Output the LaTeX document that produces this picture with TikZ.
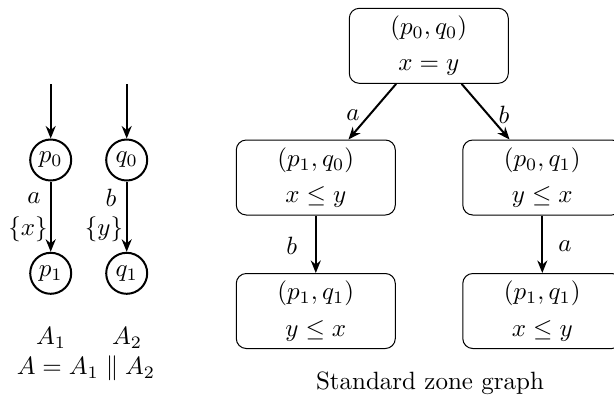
\documentclass[tikz,border=0pt]{standalone}
\usetikzlibrary{arrows.meta}
\begin{document}
\begin{tikzpicture}[x=0.4pt,y=-0.4pt,
  st/.style={circle,draw,thick,inner sep=0pt,minimum size=16.4pt},
  zone/.style={draw,rounded corners=4pt,minimum width=63.6pt,minimum height=30pt,align=center,inner sep=0pt},
  arr/.style={-{Stealth[length=5pt,width=4pt]},thick},
  lbl/.style={inner sep=0pt}]
\useasboundingbox (0,0) rectangle (614,414);
% automata
\node[st] (p0) at (50.7,160) {$p_0$};
\node[st] (p1) at (50.7,273.3) {$p_1$};
\node[st] (q0) at (126.7,160) {$q_0$};
\node[st] (q1) at (126.7,273.3) {$q_1$};
\coordinate (ip) at (50.7,84);
\coordinate (iq) at (126.7,84);
\draw[arr] (ip) -- (p0);
\draw[arr] (iq) -- (q0);
\draw[arr] (p0) -- (p1);
\draw[arr] (q0) -- (q1);
\node[lbl] (la) at (34,198) {$a$};
\node[lbl] (lx) at (28,229) {$\{x\}$};
\node[lbl] (lb) at (111,198) {$b$};
\node[lbl] (ly) at (104,229) {$\{y\}$};
\node (A1) at (51,338) {$A_1$};
\node (A2) at (127,338) {$A_2$};
\node (AA) at (86,368) {$A = A_1 \parallel A_2$};
% zone graph
\node[zone] (z0) at (428.8,45.8) {$(p_0,q_0)$\\[2.5pt]$x=y$};
\node[zone] (z1) at (315.8,177.5) {$(p_1,q_0)$\\[2.5pt]$x\le y$};
\node[zone] (z2) at (542.3,177.5) {$(p_0,q_1)$\\[2.5pt]$y\le x$};
\node[zone] (z3) at (315.8,311) {$(p_1,q_1)$\\[2.5pt]$y\le x$};
\node[zone] (z4) at (542.3,311) {$(p_1,q_1)$\\[2.5pt]$x\le y$};
\draw[arr] (z0) -- (z1);
\draw[arr] (z0) -- (z2);
\draw[arr] (z1) -- (z3);
\draw[arr] (z2) -- (z4);
\node[lbl] (ea) at (353,115) {$a$};
\node[lbl] (eb) at (504,115) {$b$};
\node[lbl] (ec) at (291.7,246) {$b$};
\node[lbl] (ed) at (565,246) {$a$};
\node (cap) at (430,383) {Standard zone graph};
\end{tikzpicture}
\end{document}
